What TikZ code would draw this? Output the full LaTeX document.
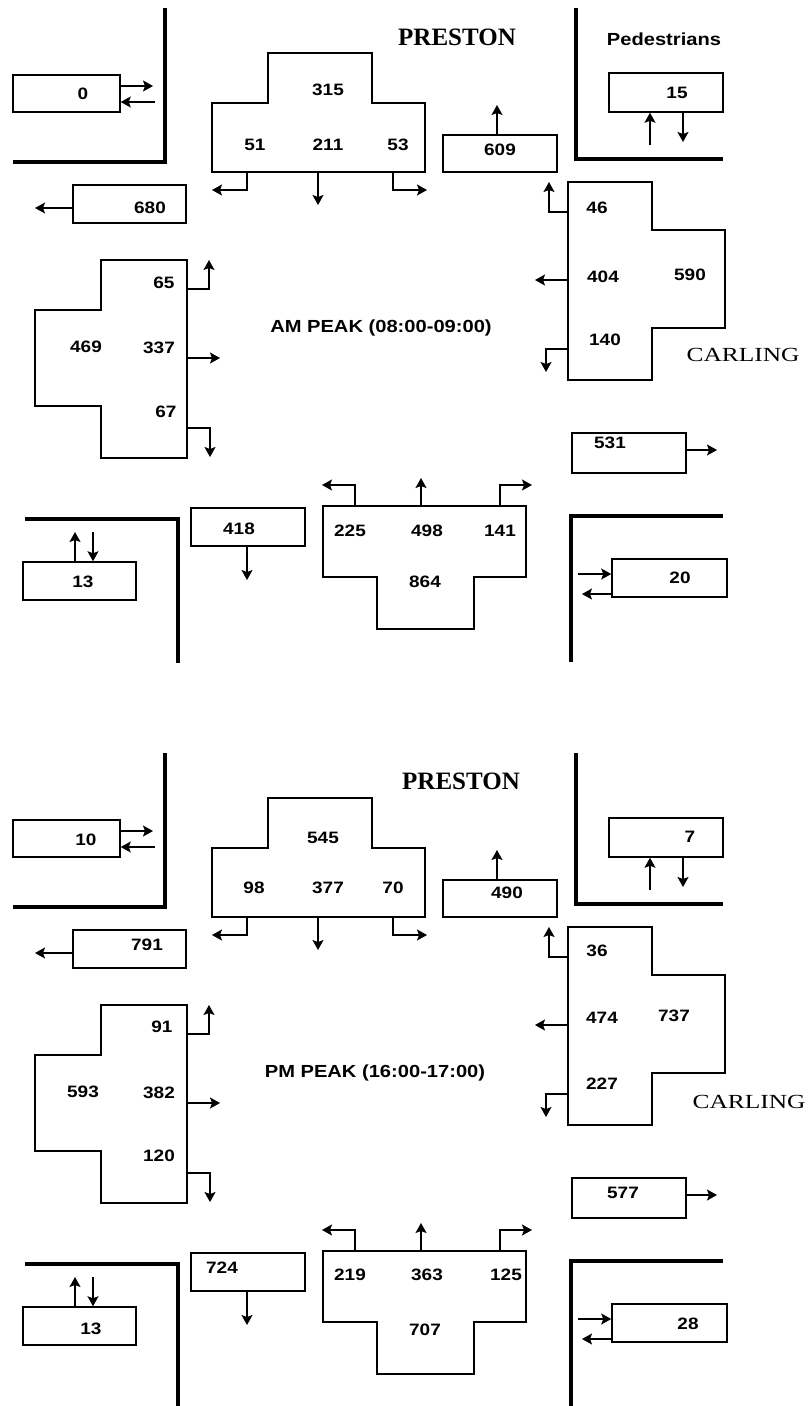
\documentclass[tikz,border=0pt]{standalone}
\usepackage{fontspec}
\setmainfont{Liberation Sans}
\newfontfamily\countfont[FakeStretch=1.15]{Liberation Sans}
\newfontfamily\roadfont{Liberation Serif}
\newfontfamily\wideroadfont[FakeStretch=1.27]{Liberation Serif}
\usepackage{tikz}
\usetikzlibrary{arrows.meta}
\tikzset{
  kerb/.style   = {line width=4pt},
  box/.style    = {draw, line width=1.5pt, inner sep=0pt},
  lane/.style   = {draw, line width=1.5pt},
  fl/.style     = {-{Stealth[length=10pt, width=11pt, inset=2pt]}, line width=1.5pt},
  num/.style    = {font=\countfont\bfseries\fontsize{16.5}{18}\selectfont, inner sep=0pt},
  title/.style  = {font=\countfont\bfseries\fontsize{17.5}{20}\selectfont, inner sep=0pt},
  nsroad/.style = {font=\roadfont\bfseries\fontsize{25}{28}\selectfont, inner sep=0pt},
  ewroad/.style = {font=\wideroadfont\fontsize{20}{24}\selectfont, inner sep=0pt}
}
% kerbs, boxes, approach outlines and movement arrows of one peak hour
\newcommand{\crossing}{%
  \draw[kerb] (165,8) -- (165,162) -- (13,162);
  \draw[kerb] (576,8) -- (576,159) -- (723,159);
  \draw[kerb] (25,519) -- (178,519) -- (178,663);
  \draw[kerb] (723,516) -- (571,516) -- (571,662);
  % pedestrian boxes
  \node[box, minimum width=107pt, minimum height=37pt] (pedNW) at (66.5,93.5) {};
  \node[box, minimum width=114pt, minimum height=39pt] (pedNE) at (666,92.5) {};
  \node[box, minimum width=113pt, minimum height=38pt] (pedSW) at (79.5,581) {};
  \node[box, minimum width=115pt, minimum height=38pt] (pedSE) at (669.5,578) {};
  \draw[fl] (pedNW.east |- 0,86) -- (153,86);
  \draw[fl] (155,102) -- (pedNW.east |- 0,102);
  \draw[fl] (650,145) -- (pedNE.south -| 650,0);
  \draw[fl] (pedNE.south -| 683,0) -- (683,142);
  \draw[fl] (pedSW.north -| 75,0) -- (75,532);
  \draw[fl] (93,532) -- (pedSW.north -| 93,0);
  \draw[fl] (578,574) -- (pedSE.west |- 0,574);
  \draw[fl] (pedSE.west |- 0,594) -- (582,594);
  % exit boxes
  \node[box, minimum width=113pt, minimum height=38pt] (exW) at (129.5,204) {};
  \node[box, minimum width=114pt, minimum height=37pt] (exN) at (500,153.5) {};
  \node[box, minimum width=114pt, minimum height=40pt] (exE) at (629,453) {};
  \node[box, minimum width=114pt, minimum height=38pt] (exS) at (248,527) {};
  \draw[fl] (exW.west |- 0,208) -- (35,208);
  \draw[fl] (exN.north -| 497,0) -- (497,105);
  \draw[fl] (exE.east |- 0,450) -- (717,450);
  \draw[fl] (exS.south -| 247,0) -- (247,580);
  % approaches
  \draw[lane] (212,103) -- (268,103) -- (268,53) -- (372,53) -- (372,103)
    -- (425,103) -- (425,172) -- (212,172) -- cycle;
  \draw[lane] (568,182) -- (652,182) -- (652,230) -- (725,230) -- (725,328)
    -- (652,328) -- (652,380) -- (568,380) -- cycle;
  \draw[lane] (101,260) -- (187,260) -- (187,458) -- (101,458) -- (101,406)
    -- (35,406) -- (35,310) -- (101,310) -- cycle;
  \draw[lane] (323,506) -- (526,506) -- (526,577) -- (474,577) -- (474,629)
    -- (377,629) -- (377,577) -- (323,577) -- cycle;
  \draw[fl] (247,172) -- (247,190) -- (212,190);
  \draw[fl] (318,172) -- (318,205);
  \draw[fl] (393,172) -- (393,190) -- (427,190);
  \draw[fl] (568,212) -- (549,212) -- (549,182);
  \draw[fl] (568,280) -- (535,280);
  \draw[fl] (568,349) -- (546,349) -- (546,372);
  \draw[fl] (187,289) -- (209,289) -- (209,260);
  \draw[fl] (187,358) -- (220,358);
  \draw[fl] (187,428) -- (210,428) -- (210,457);
  \draw[fl] (355,506) -- (355,485) -- (322,485);
  \draw[fl] (421,506) -- (421,478);
  \draw[fl] (500,506) -- (500,485) -- (532,485);
}

\begin{document}
\begin{tikzpicture}[x=1pt, y=-1pt]
  \path[use as bounding box, fill=white] (0,0) rectangle (808,1406);

  % AM peak
  \begin{scope}[name prefix=am-]
    \crossing
    \node[nsroad] (preston) at (457,37) {PRESTON};
    \node[ewroad] (carling) at (743,355) {CARLING};
    \node[title] (peds) at (664,39) {Pedestrians};
    \node[title] (hour) at (381,328) {AM PEAK (08:00-09:00)};
    \node[num] (pNW) at (83,94) {0};
    \node[num] (pNE) at (677,93) {15};
    \node[num] (pSW) at (83,582) {13};
    \node[num] (pSE) at (680,578) {20};
    \node[num] (oW) at (150,208) {680};
    \node[num] (oN) at (500,150) {609};
    \node[num] (oE) at (610,443) {531};
    \node[num] (oS) at (239,529) {418};
    \node[num] (n1) at (328,90) {315};
    \node[num] (n2) at (255,145) {51};
    \node[num] (n3) at (328,145) {211};
    \node[num] (n4) at (398,145) {53};
    \node[num] (e1) at (597,208) {46};
    \node[num] (e2) at (603,277) {404};
    \node[num] (e3) at (690,275) {590};
    \node[num] (e4) at (605,340) {140};
    \node[num] (w1) at (164,283) {65};
    \node[num] (w2) at (86,347) {469};
    \node[num] (w3) at (159,348) {337};
    \node[num] (w4) at (166,412) {67};
    \node[num] (s1) at (350,531) {225};
    \node[num] (s2) at (427,531) {498};
    \node[num] (s3) at (500,531) {141};
    \node[num] (s4) at (425,582) {864};
  \end{scope}

  % PM peak
  \begin{scope}[shift={(0,745)}, name prefix=pm-]
    \crossing
    \node[nsroad] (preston) at (461,36) {PRESTON};
    \node[ewroad] (carling) at (749,357) {CARLING};
    \node[title] (hour) at (375,328) {PM PEAK (16:00-17:00)};
    \node[num] (pNW) at (86,95) {10};
    \node[num] (pNE) at (690,92) {7};
    \node[num] (pSW) at (91,584) {13};
    \node[num] (pSE) at (688,579) {28};
    \node[num] (oW) at (147,200) {791};
    \node[num] (oN) at (507,148) {490};
    \node[num] (oE) at (623,448) {577};
    \node[num] (oS) at (222,523) {724};
    \node[num] (n1) at (323,93) {545};
    \node[num] (n2) at (254,143) {98};
    \node[num] (n3) at (328,143) {377};
    \node[num] (n4) at (393,143) {70};
    \node[num] (e1) at (597,206) {36};
    \node[num] (e2) at (602,273) {474};
    \node[num] (e3) at (674,271) {737};
    \node[num] (e4) at (602,339) {227};
    \node[num] (w1) at (162,282) {91};
    \node[num] (w2) at (83,347) {593};
    \node[num] (w3) at (159,348) {382};
    \node[num] (w4) at (159,411) {120};
    \node[num] (s1) at (350,530) {219};
    \node[num] (s2) at (427,530) {363};
    \node[num] (s3) at (506,530) {125};
    \node[num] (s4) at (425,585) {707};
  \end{scope}
\end{tikzpicture}
\end{document}
